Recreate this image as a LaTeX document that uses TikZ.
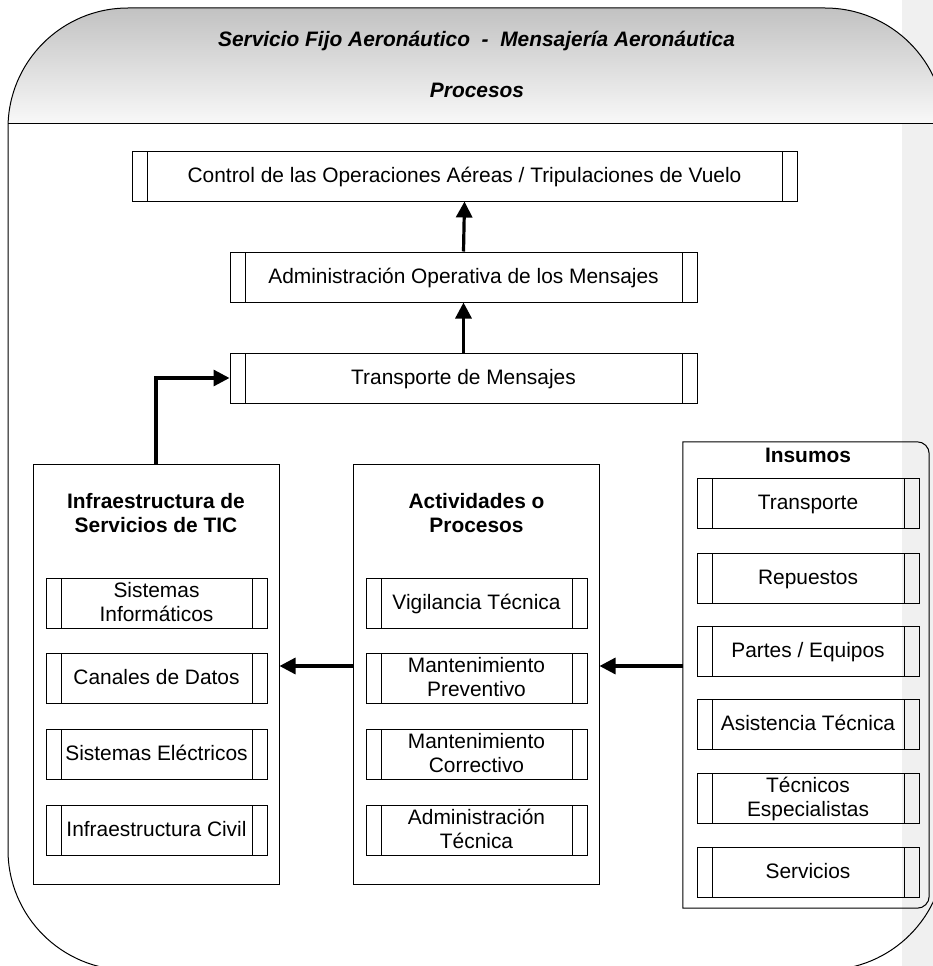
\documentclass[tikz,border=0pt]{standalone}
\usepackage{fontspec}
\setmainfont{Liberation Sans}
\usetikzlibrary{arrows.meta}
\definecolor{marginstrip}{RGB}{240,240,240}
\definecolor{headtop}{RGB}{190,190,190}
\definecolor{headbot}{RGB}{248,248,248}
% line strut: every text line gets the same height and depth
\newcommand\ls{\rule[-5.7pt]{0pt}{24pt}}
\begin{document}
\begin{tikzpicture}[x=1pt,y=-1pt,
  txt/.style={font=\fontsize{20.9}{24}\selectfont},
  ttl/.style={font=\fontsize{20.9}{24}\selectfont\bfseries, align=center, inner sep=0pt},
  edge/.style={line width=1pt},
  procbox/.style={draw, edge, inner sep=0pt, minimum height=50pt, align=center, txt,
    path picture={
      \draw[edge] ([xshift=15pt]path picture bounding box.north west) -- ([xshift=15pt]path picture bounding box.south west);
      \draw[edge] ([xshift=-15pt]path picture bounding box.north east) -- ([xshift=-15pt]path picture bounding box.south east);}},
  subbox/.style={procbox, minimum width=221pt},
  groupbox/.style={draw, edge, inner sep=0pt, minimum width=246pt, minimum height=420pt},
  arr/.style={line width=3.2pt, -{Triangle[length=16pt,width=16pt]}, line join=miter}]

\useasboundingbox (0,0) rectangle (933,966);
\clip (0,0) rectangle (933,966);
\fill[white] (0,0) rectangle (933,966);
\fill[marginstrip] (902,0) rectangle (933,966);

% outer frame with shaded header
\begin{scope}
  \clip[rounded corners=120pt] (8,8) rectangle (945,970);
  \shade[top color=headtop, bottom color=headbot] (0,0) rectangle (945,123);
  \draw[edge] (0,123) -- (945,123);
\end{scope}
\draw[edge, rounded corners=120pt] (8,8) rectangle (945,970);

\node[txt, font=\fontsize{20.9}{24}\selectfont\bfseries\itshape, anchor=base] (title) at (476.5,47)
  {Servicio Fijo Aeronáutico\ \ -\ \ Mensajería Aeronáutica};
\node[txt, font=\fontsize{20.9}{24}\selectfont\bfseries\itshape, anchor=base] (subtitle) at (477,97) {Procesos};

% process chain
\node[procbox, minimum width=665pt] (ctrl) at (464.5,176) {\ls Control de las Operaciones Aéreas / Tripulaciones de Vuelo};
\node[procbox, minimum width=467pt] (adm) at (463.5,277) {\ls Administración Operativa de los Mensajes};
\node[procbox, minimum width=467pt] (trans) at (463.5,378) {\ls Transporte de Mensajes};

% ICT infrastructure
\node[groupbox] (infra) at (156,674) {};
\node[ttl, anchor=north] (infraT) at (156,489.7) {\ls Infraestructura de\\\ls Servicios de TIC};
\node[subbox] (si) at (156.5,603) {\ls Sistemas\\\ls Informáticos};
\node[subbox] (cd) at (156.5,678) {\ls Canales de Datos};
\node[subbox] (se) at (156.5,754) {\ls Sistemas Eléctricos};
\node[subbox] (ic) at (156.5,830) {\ls Infraestructura Civil};

% activities
\node[groupbox] (act) at (476,674) {};
\node[ttl, anchor=north] (actT) at (476.5,489.7) {\ls Actividades o\\\ls Procesos};
\node[subbox] (vt) at (476.5,603) {\ls Vigilancia Técnica};
\node[subbox] (mp) at (476.5,678) {\ls Mantenimiento\\\ls Preventivo};
\node[subbox] (mc) at (476.5,754) {\ls Mantenimiento\\\ls Correctivo};
\node[subbox] (at) at (476.5,830) {\ls Administración\\\ls Técnica};

% supplies
\node[inner sep=0pt, minimum width=246pt, minimum height=466pt] (ins) at (806,675) {};
\draw[edge] (ins.south west) -- (ins.north west) [rounded corners=12pt] -- (ins.north east) -- (ins.south east) [sharp corners] -- cycle;
\node[ttl, anchor=base] (insT) at (808,462) {Insumos};
\node[subbox, minimum width=222pt] (i1) at (808,503.5) {\ls Transporte};
\node[subbox, minimum width=222pt] (i2) at (808,578) {\ls Repuestos};
\node[subbox, minimum width=222pt] (i3) at (808,651.5) {\ls Partes / Equipos};
\node[subbox, minimum width=222pt] (i4) at (808,724.5) {\ls Asistencia Técnica};
\node[subbox, minimum width=222pt] (i5) at (808,798) {\ls Técnicos\\\ls Especialistas};
\node[subbox, minimum width=222pt] (i6) at (808,872) {\ls Servicios};

% connectors
\draw[arr] (trans.north) -- (adm.south);
\draw[arr] (adm.north) -- (ctrl.south);
\draw[arr] (infra.north) |- (trans.west);
\coordinate (actout) at ([yshift=8pt]act.west);
\draw[arr] (actout) -- (actout -| infra.east);
\coordinate (insout) at ([yshift=9pt]ins.west);
\draw[arr] (insout) -- (insout -| act.east);
\end{tikzpicture}
\end{document}
